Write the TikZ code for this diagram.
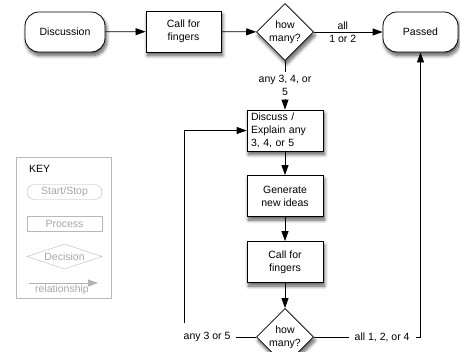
\documentclass[tikz,border=0pt]{standalone}
\usepackage{fontspec}
\setmainfont{Liberation Sans}
\usetikzlibrary{shapes.geometric, arrows.meta, positioning, shadows.blur}

\begin{document}
\begin{tikzpicture}[
    x=1pt, y=-1pt,
    font=\fontsize{10.5}{13}\selectfont,
    >={Triangle[length=10pt, width=7pt]},
    shade/.style={blur shadow={shadow xshift=1.5pt, shadow yshift=-3.5pt, shadow blur radius=3.5pt, shadow blur steps=8, shadow opacity=65}},
    startstop/.style={draw, fill=white, line width=0.8pt, rounded corners=14pt, minimum width=80pt, minimum height=40pt, align=center, shade},
    process/.style={draw, fill=white, line width=0.8pt, minimum width=76pt, minimum height=41pt, inner sep=2pt, align=center, shade},
    decision/.style={diamond, draw, fill=white, line width=0.8pt, minimum width=57pt, minimum height=57pt, inner sep=0pt, align=center, shade},
    edgelabel/.style={fill=white, inner xsep=6pt, align=center},
    arrow/.style={->, line width=0.8pt},
    keyitem/.style={draw=gray!55, text=gray!70, minimum width=75pt, minimum height=15pt, inner sep=0pt}
]
\useasboundingbox (0,0) rectangle (460,351);

% Nodes
\node[startstop] (discussion) at (65,32) {Discussion};
\node[process, minimum width=75pt] (call1) at (183.5,31.5) {Call for\\fingers};
\node[decision] (howmany1) at (285,32) {how\\many?};
\node[startstop, minimum width=75pt] (passed) at (420.5,32) {Passed};

\node[process, align=left, text width=68pt, inner xsep=4pt] (discuss) at (285,130.5) {Discuss /\\Explain any\\3, 4, or 5};
\node[process] (generate) at (285,196) {Generate\\new ideas};
\node[process] (call2) at (285,262) {Call for\\fingers};
\node[decision] (howmany2) at (285,337) {how\\many?};

% Key
\node[draw=gray!55, minimum width=95pt, minimum height=141pt] (keybox) at (63.5,227.5) {};
\node[anchor=west] (keytitle) at (25.5,169) {KEY};
\node[keyitem, rounded corners=7.5pt] (keystart) at (64.5,192) {Start/Stop};
\node[keyitem] (keyproc) at (64.5,224) {Process};
\node[keyitem, diamond, aspect=3, minimum height=25pt] (keydec) at (64.5,256.5) {Decision};
\coordinate (relfrom) at (29,283);
\coordinate (relto) at (98,283);
\draw[-{Triangle[length=10pt, width=7pt]}, gray!60, line width=0.8pt] (relfrom) -- (relto);
\node[text=gray!70] (reltext) at (62,290) {relationship};

% Arrows
\draw[arrow] (discussion) -- (call1);
\draw[arrow] (call1) -- (howmany1);
\draw[arrow] (howmany1) -- node[pos=0.42, align=center] {all\\1 or 2} (passed);
\draw[arrow] (howmany1) -- node[edgelabel] {any 3, 4, or\\5} (discuss);
\draw[arrow] (discuss) -- (generate);
\draw[arrow] (generate) -- (call2);
\draw[arrow] (call2) -- (howmany2);
\draw[arrow] (howmany2.east) -| node[edgelabel, pos=0.32] {all 1, 2, or 4} (passed.south);

\coordinate (loopcorner) at (184,337);
\draw[arrow] (howmany2.west) -- node[edgelabel, pos=0.68, inner ysep=9pt] {any 3 or 5} (loopcorner) |- (discuss.west);

\end{tikzpicture}
\end{document}
